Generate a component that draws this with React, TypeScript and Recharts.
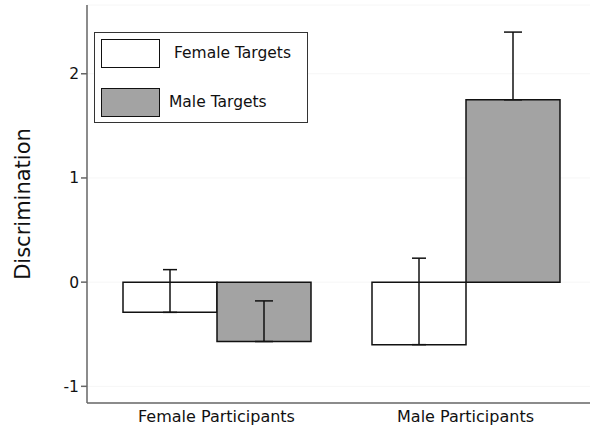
import React from 'react';
import { BarChart, Bar, XAxis, YAxis, ErrorBar, CartesianGrid, Legend } from 'recharts';

const categories = ['Female Participants', 'Male Participants'];
const femaleTargets = [-0.29, -0.6];
const maleTargets = [-0.57, 1.75];
const femaleErrUp = [0.41, 0.83];
const maleErrUp = [0.39, 0.65];
const yTicks = [-1, 0, 1, 2];

const data = categories.map((c, i) => ({
  name: c,
  female: femaleTargets[i],
  male: maleTargets[i],
  femaleErr: [0, femaleErrUp[i]],
  maleErr: [0, maleErrUp[i]],
}));

const FONT = '"DejaVu Sans", sans-serif';

const LegendBox = (props: any) => {
  const payload = props.payload || [];
  return (
    <div
      style={{
        width: 212,
        height: 89,
        border: '1px solid #333',
        background: '#fff',
        fontFamily: FONT,
        fontSize: 15.5,
        color: '#111',
        position: 'relative',
        boxSizing: 'content-box',
      }}
    >
      {payload.map((p: any, i: number) => (
        <div key={i} style={{ position: 'absolute', left: 6, top: i === 0 ? 5 : 54, height: 30, display: 'flex', alignItems: 'center' }}>
          <div
            style={{
              width: 57,
              height: 27,
              border: '1.5px solid #111',
              background: p.color,
            }}
          />
          <span style={{ marginLeft: i === 0 ? 14 : 9 }}>{p.value}</span>
        </div>
      ))}
    </div>
  );
};

export default function App() {
  return (
    <div style={{ position: 'absolute', left: 0, top: 0, width: 590, height: 431, background: '#fff' }}>
      <BarChart
        width={590}
        height={431}
        data={data}
        margin={{ top: 5, right: 0, bottom: 0, left: 0 }}
        barGap={0}
      >
        <CartesianGrid vertical={false} stroke="#f6f6f6" />
        <XAxis
          dataKey="name"
          height={28}
          padding={{ left: 5, right: 0 }}
          tickLine={false}
          axisLine={{ stroke: '#666', strokeWidth: 1.5 }}
          tick={{ fontFamily: FONT, fontSize: 16, fill: '#111' }}
          tickMargin={2}
        />
        <YAxis
          width={87}
          domain={[-1.16, 2.66]}
          ticks={yTicks}
          allowDataOverflow
          axisLine={{ stroke: '#666', strokeWidth: 1.5 }}
          tickLine={{ stroke: '#666', strokeWidth: 1.5 }}
          tickSize={6}
          tick={{ fontFamily: FONT, fontSize: 15.5, fill: '#111' }}
          label={{
            content: () => (
              <text
                x={23}
                y={204}
                transform="rotate(-90, 23, 204)"
                textAnchor="middle"
                dominantBaseline="central"
                style={{ fontFamily: FONT, fontSize: 21, fill: '#111' }}
              >
                Discrimination
              </text>
            ),
          }}
        />
        <Legend
          layout="horizontal"
          verticalAlign="middle"
          align="center"
          content={<LegendBox />}
          wrapperStyle={{ position: 'absolute', left: 94, top: 32, width: 214, height: 91 }}
        />
        <Bar dataKey="female" name="Female Targets" fill="#ffffff" stroke="#111" strokeWidth={1.5} barSize={94} isAnimationActive={false}>
          <ErrorBar dataKey="femaleErr" direction="y" width={7} stroke="#111" strokeWidth={1.5} />
        </Bar>
        <Bar dataKey="male" name="Male Targets" fill="#a3a3a3" stroke="#111" strokeWidth={1.5} barSize={94} isAnimationActive={false}>
          <ErrorBar dataKey="maleErr" direction="y" width={9} stroke="#111" strokeWidth={1.5} />
        </Bar>
      </BarChart>
    </div>
  );
}
